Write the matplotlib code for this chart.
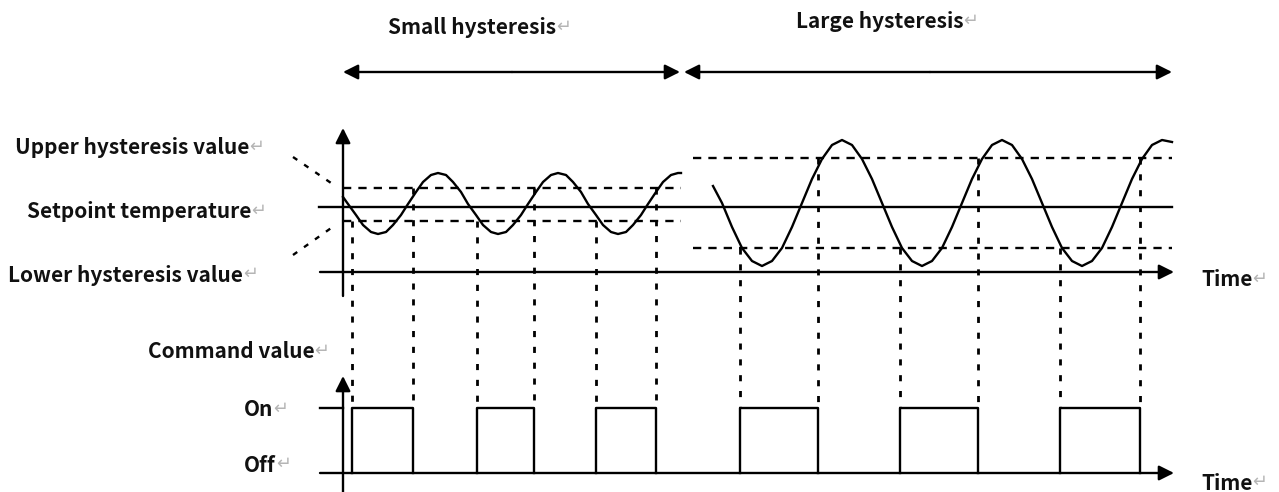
import matplotlib.pyplot as plt

# picture units: x to the right, y downward (same scale as the 1279x492 image)
small_x = [343, 348, 356, 363, 371, 378, 386, 393, 401, 408, 416, 423, 431, 438, 446,
           453, 461, 468, 476, 483, 491, 498, 506, 513, 521, 528, 536, 543, 551, 558,
           566, 573, 581, 588, 596, 603, 611, 618, 626, 633, 641, 648, 656, 663, 671,
           678, 681]
small_y = [197, 204, 215, 225, 232, 234, 232, 225, 215, 204, 192, 182, 175, 173, 175,
           182, 192, 204, 215, 225, 232, 234, 232, 225, 215, 204, 192, 182, 175, 173,
           175, 182, 192, 204, 215, 225, 232, 234, 232, 225, 215, 204, 192, 182, 175,
           173, 173]

large_x = [713, 722, 732, 742, 752, 762, 772, 782, 792, 802, 812, 822, 832, 842, 852,
           862, 872, 882, 892, 902, 912, 922, 932, 942, 952, 962, 972, 982, 992, 1002,
           1012, 1022, 1032, 1042, 1052, 1062, 1072, 1082, 1092, 1102, 1112, 1122, 1132,
           1142, 1152, 1162, 1172]
large_y = [186, 203, 227, 248, 261, 266, 261, 248, 227, 203, 179, 159, 145, 140, 145,
           159, 179, 203, 227, 248, 261, 266, 261, 248, 227, 203, 179, 159, 145, 140,
           145, 159, 179, 203, 227, 248, 261, 266, 261, 248, 227, 203, 179, 159, 145,
           140, 142]

setpoint = 207
small_upper, small_lower = 188, 221
large_upper, large_lower = 158, 248
time_axis = 272
on_level, off_level = 408, 473

# switching instants (on, off, on, off, ...)
small_switch = [352, 413, 477, 534, 596, 656]
large_switch = [740, 818, 900, 978, 1060, 1140]

labels = ["Upper hysteresis value", "Setpoint temperature", "Lower hysteresis value",
          "Command value", "On", "Off"]

fig = plt.figure(figsize=(12.79, 4.92), dpi=100)
ax = fig.add_axes([0, 0, 1, 1])
ax.set_xlim(0, 1279)
ax.set_ylim(492, 0)
ax.axis("off")

lw = 1.7
dash = (0, (3.5, 3))
dot = (0, (2.2, 3.5))
font = ["Noto Sans CJK SC", "DejaVu Sans"]

def arrow(x0, y0, x1, y1, style="-|>"):
    ax.annotate("", xy=(x1, y1), xytext=(x0, y0),
                arrowprops=dict(arrowstyle=style + ",head_length=0.9,head_width=0.45",
                                lw=lw, color="black", shrinkA=0, shrinkB=0))

def label(x, y, s, ha="left", size=15):
    t = ax.text(x, y, s, ha=ha, va="center", fontsize=size, family=font,
                fontweight="bold", color="#111111")
    ax.annotate("\u21b5", xy=(1, 0.55), xycoords=t, va="center", ha="left",
                fontsize=size * 0.85, color="#b5b5b5", family="DejaVu Sans")

# top span arrows
arrow(512, 72, 343, 72)
arrow(512, 72, 680, 72)
arrow(930, 72, 684, 72)
arrow(930, 72, 1172, 72)
label(388, 28, "Small hysteresis")
label(796, 22, "Large hysteresis")

# temperature axes
arrow(343, 296, 343, 128)
arrow(320, time_axis, 1174, time_axis)
ax.plot([319, 1172], [setpoint, setpoint], color="black", lw=lw)
ax.plot([343, 681], [small_upper] * 2, color="black", lw=lw, ls=dash)
ax.plot([343, 681], [small_lower] * 2, color="black", lw=lw, ls=dash)
ax.plot([693, 1172], [large_upper] * 2, color="black", lw=lw, ls=dash)
ax.plot([693, 1172], [large_lower] * 2, color="black", lw=lw, ls=dash)
ax.plot(small_x, small_y, color="black", lw=lw)
ax.plot(large_x, large_y, color="black", lw=lw)

# pointer lines from labels
ax.plot([293, 334], [157, 185], color="black", lw=lw, ls=dot)
ax.plot([293, 334], [255, 226], color="black", lw=lw, ls=dot)

# command axes
arrow(343, 492, 343, 376)
arrow(320, off_level, 1174, off_level)
ax.plot([320, 343], [on_level, on_level], color="black", lw=lw)

for sw, up, lo in ((small_switch, small_upper, small_lower),
                   (large_switch, large_upper, large_lower)):
    for i, t in enumerate(sw):
        start = lo if i % 2 == 0 else up
        ax.plot([t, t], [start, on_level], color="black", lw=lw + 0.3, ls=dot)
    for t_on, t_off in zip(sw[::2], sw[1::2]):
        ax.plot([t_on, t_on, t_off, t_off], [off_level, on_level, on_level, off_level],
                color="black", lw=lw)

label(15, 148, labels[0])
label(27, 212, labels[1])
label(8, 275, labels[2])
label(148, 352, labels[3])
label(244, 410, labels[4])
label(244, 465, labels[5])
label(1201, 280, "Time")
label(1201, 483, "Time")

fig.savefig("out.png", dpi=100)
